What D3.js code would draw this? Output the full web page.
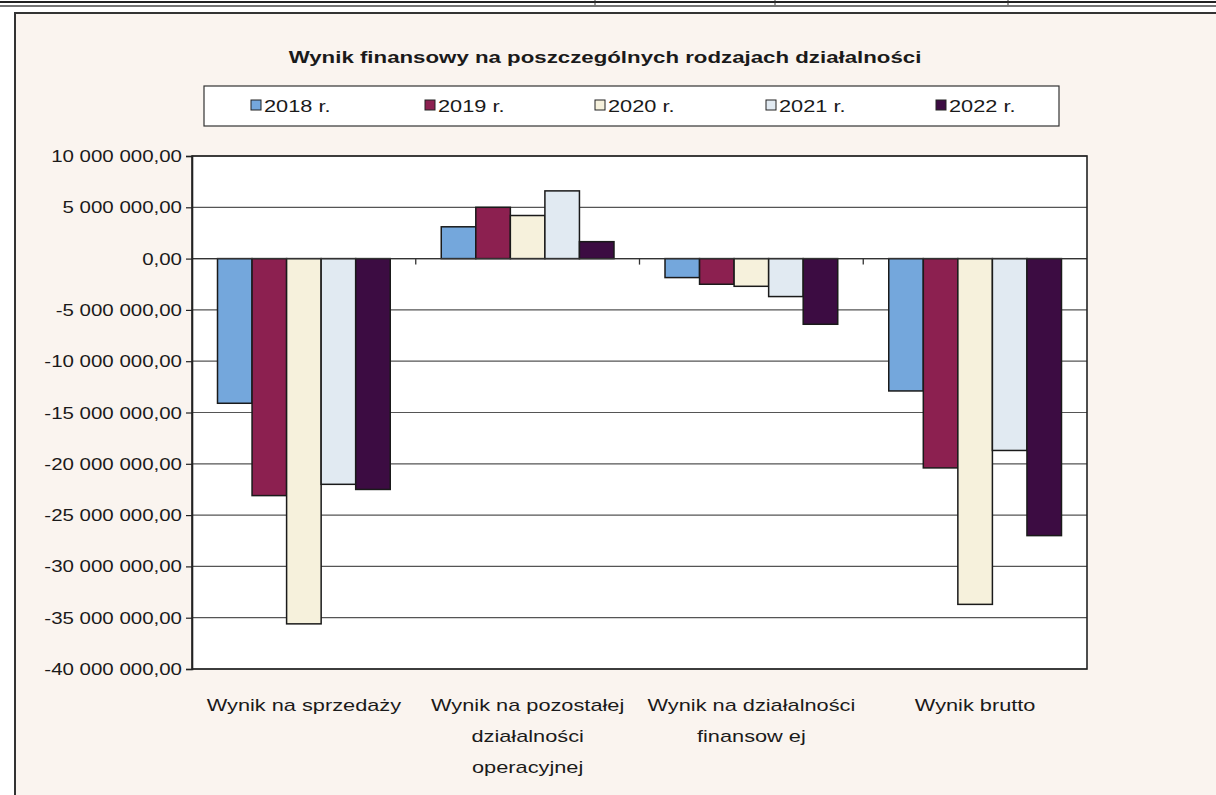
<!DOCTYPE html>
<html>
<head>
<meta charset="utf-8">
<script src="https://cdn.jsdelivr.net/npm/d3@7"></script>
<style>
  html, body { margin: 0; padding: 0; background: #ffffff; }
  svg { display: block; }
  text { font-family: Arial, "Liberation Sans", sans-serif; fill: #1a1a1a; }
</style>
</head>
<body>
<svg id="chart" width="1216" height="795"></svg>
<script>
// Categories (each label split into its printed lines)
const categories = [
  "Wynik na sprzedaży",
  "Wynik na pozostałej działalności operacyjnej",
  "Wynik na działalności finansowej",
  "Wynik brutto"
];
const categoryLines = [
  ["Wynik na sprzedaży"],
  ["Wynik na pozostałej", "działalności", "operacyjnej"],
  ["Wynik na działalności", "finansow ej"],
  ["Wynik brutto"]
];

// Series (PLN), one array per year, in category order
const years = ["2018 r.", "2019 r.", "2020 r.", "2021 r.", "2022 r."];
const values2018 = [-14100000, 3100000, -1850000, -12900000];
const values2019 = [-23100000, 5000000, -2500000, -20400000];
const values2020 = [-35600000, 4200000, -2700000, -33700000];
const values2021 = [-22000000, 6600000, -3700000, -18700000];
const values2022 = [-22500000, 1650000, -6400000, -27000000];
const seriesValues = [values2018, values2019, values2020, values2021, values2022];

// Value axis ticks
const yTicks = [10000000, 5000000, 0, -5000000, -10000000, -15000000,
                -20000000, -25000000, -30000000, -35000000, -40000000];

const colors = ["#74a7dc", "#8c2050", "#f6f1dc", "#e1eaf2", "#3c0c42"];

const svg = d3.select("#chart");
const SX = 1.28; // horizontal stretch of the printed lettering

// Put a horizontally stretched label at (x, y)
function label(parent, x, y, str, opts = {}) {
  return parent.append("text")
    .attr("transform", `translate(${x},${y}) scale(${SX},1)`)
    .attr("text-anchor", opts.anchor || "start")
    .attr("font-size", opts.size || 16)
    .attr("font-weight", opts.weight || "normal")
    .text(str);
}

// Page: table rule above the chart
svg.append("rect").attr("x", 0).attr("y", 0).attr("width", 1216).attr("height", 795).attr("fill", "#ffffff");
svg.append("line").attr("x1", 0).attr("x2", 1216).attr("y1", 2).attr("y2", 2)
  .attr("stroke", "#222").attr("stroke-width", 2);
svg.append("line").attr("x1", 0).attr("x2", 1216).attr("y1", 6).attr("y2", 6)
  .attr("stroke", "#444").attr("stroke-width", 1.5);
[595, 775, 1008].forEach(x => {
  svg.append("line").attr("x1", x).attr("x2", x).attr("y1", 0).attr("y2", 5)
    .attr("stroke", "#333").attr("stroke-width", 1);
});

// Chart area
svg.append("rect").attr("x", 15).attr("y", 13).attr("width", 1210).attr("height", 790)
  .attr("fill", "#faf4ef").attr("stroke", "#333").attr("stroke-width", 2);

// Title
label(svg, 605, 63, "Wynik finansowy na poszczególnych rodzajach działalności",
  { anchor: "middle", size: 17.4, weight: "bold" });

// Legend
const legend = svg.append("g");
legend.append("rect").attr("x", 204).attr("y", 86).attr("width", 855).attr("height", 40)
  .attr("fill", "#ffffff").attr("stroke", "#333").attr("stroke-width", 1.2);
const legendX = [251, 425, 595, 766, 936];
years.forEach((yr, i) => {
  legend.append("rect").attr("x", legendX[i]).attr("y", 100).attr("width", 10).attr("height", 10)
    .attr("fill", colors[i]).attr("stroke", "#222").attr("stroke-width", 1);
  label(legend, legendX[i] + 13, 112, yr, { size: 17 });
});

// Plot area
const plot = { left: 192, right: 1087, top: 156, bottom: 669 };

const x0 = d3.scaleBand()
  .domain(categories)
  .range([plot.left, plot.right])
  .paddingInner(0.228)
  .paddingOuter(0.114);

const x1 = d3.scaleBand()
  .domain(d3.range(years.length))
  .range([0, x0.bandwidth()]);

const y = d3.scaleLinear()
  .domain([-40000000, 10000000])
  .range([plot.bottom, plot.top]);

svg.append("rect").attr("x", plot.left).attr("y", plot.top)
  .attr("width", plot.right - plot.left).attr("height", plot.bottom - plot.top)
  .attr("fill", "#ffffff");

// Horizontal gridlines
svg.append("g").selectAll("line").data(yTicks).join("line")
  .attr("x1", plot.left).attr("x2", plot.right)
  .attr("y1", d => y(d)).attr("y2", d => y(d))
  .attr("stroke", "#555").attr("stroke-width", 1.2);

// Bars
const groups = svg.append("g").selectAll("g").data(categories).join("g")
  .attr("transform", d => `translate(${x0(d)},0)`);
groups.selectAll("rect")
  .data((c, ci) => seriesValues.map((vals, si) => ({ si, v: vals[ci] })))
  .join("rect")
  .attr("x", d => x1(d.si))
  .attr("width", x1.bandwidth())
  .attr("y", d => y(Math.max(0, d.v)))
  .attr("height", d => Math.abs(y(d.v) - y(0)))
  .attr("fill", d => colors[d.si])
  .attr("stroke", "#1a1a1a").attr("stroke-width", 1.5);

// Zero line with category separator ticks
svg.append("line").attr("x1", plot.left).attr("x2", plot.right)
  .attr("y1", y(0)).attr("y2", y(0)).attr("stroke", "#333").attr("stroke-width", 1.3);
const sepTicks = categories.slice(1).map(c => x0(c) - x0.step() * x0.paddingInner() / 2);
svg.append("g").selectAll("line").data(sepTicks).join("line")
  .attr("x1", d => d).attr("x2", d => d)
  .attr("y1", y(0)).attr("y2", y(0) + 6)
  .attr("stroke", "#333").attr("stroke-width", 1.3);

// Plot border
svg.append("rect").attr("x", plot.left).attr("y", plot.top)
  .attr("width", plot.right - plot.left).attr("height", plot.bottom - plot.top)
  .attr("fill", "none").attr("stroke", "#222").attr("stroke-width", 1.6);

// Value axis
const fmt = v => {
  const s = d3.format(",.2f")(v).replace(/,/g, " ").replace(".", ",");
  return s.replace("−", "-");
};
const yAxis = svg.append("g")
  .attr("transform", `translate(${plot.left},0)`)
  .call(d3.axisLeft(y).tickValues(yTicks).tickSize(6).tickFormat(""));
yAxis.select(".domain").attr("stroke", "#222").attr("stroke-width", 1.6);
yAxis.selectAll(".tick line").attr("stroke", "#222").attr("stroke-width", 1.2);
yTicks.forEach(t => label(svg, 182, y(t) + 6, fmt(t), { anchor: "end", size: 16 }));

// Category labels
categories.forEach((c, i) => {
  const cx = x0(c) + x0.bandwidth() / 2;
  categoryLines[i].forEach((ln, li) => {
    label(svg, cx, 711 + li * 31, ln, { anchor: "middle", size: 17 });
  });
});
</script>
</body>
</html>
